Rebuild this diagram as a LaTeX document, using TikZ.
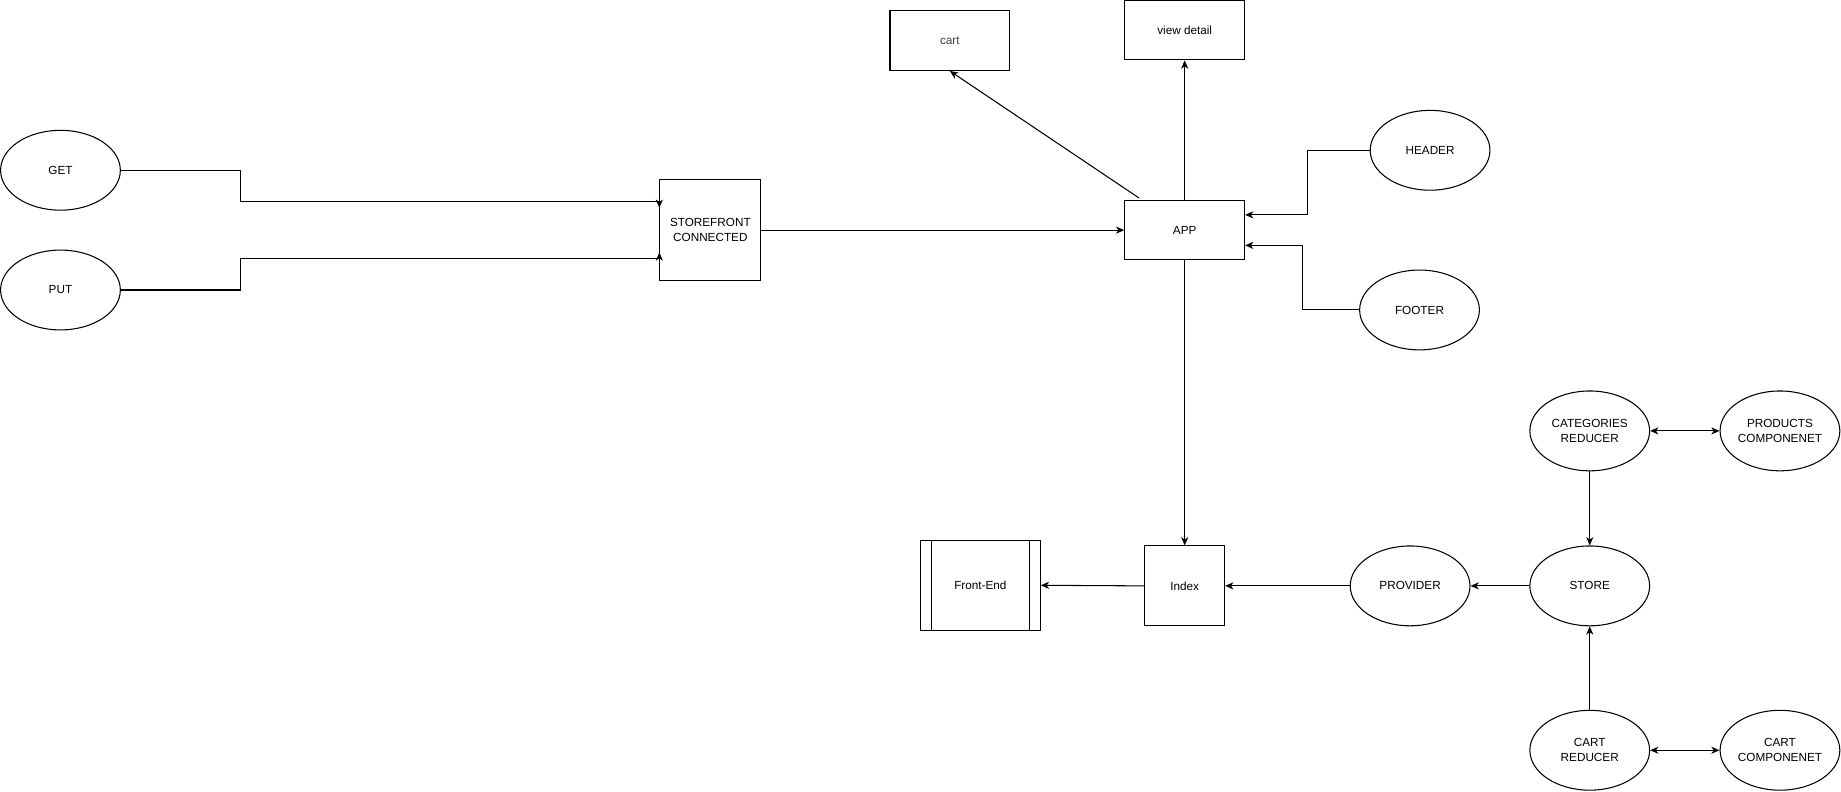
\documentclass[tikz,border=0pt]{standalone}
\usepackage{fontspec}
\setmainfont{Liberation Sans}
\usetikzlibrary{shapes.geometric,arrows.meta}
\tikzset{
  box/.style={draw, rectangle, inner sep=0pt, align=center, font=\fontsize{10pt}{13pt}\selectfont},
  oval/.style={draw, ellipse, minimum width=102pt, minimum height=68pt, inner sep=0pt,
    label={[align=center, font=\fontsize{10pt}{13pt}\selectfont]center:#1}},
  arr/.style={-{Stealth[length=7pt,width=6pt,inset=2pt]}},
  darr/.style={{Stealth[length=7pt,width=6pt,inset=2pt]}-{Stealth[length=7pt,width=6pt,inset=2pt]}}
}
\begin{document}
\begin{tikzpicture}[x=1pt, y=-1pt, line width=0.9pt]
		\useasboundingbox (0,0) rectangle (1568,674);
		\node [oval=GET] (get) at (51.5,145) {};
		\node [oval=PUT] (put) at (51.5,247) {};
		\node [box, minimum width=86pt, minimum height=86pt] (store front) at (605,196) {STOREFRONT\\CONNECTED};
		\node [box, minimum width=102pt, minimum height=50pt] (app) at (1009,196) {APP};
		\node [box, minimum width=102pt, minimum height=51pt, text=black!75] (cart) at (809,34.5) {cart};
		\node [box, minimum width=102pt, minimum height=51pt] (view detail) at (1009,25.5) {view detail};
		\node [oval=HEADER] (header) at (1218,128) {};
		\node [oval=FOOTER] (footer) at (1209,264) {};
		\node [box, minimum width=68pt, minimum height=68pt] (index) at (1009,499) {Index};
		\node [box, minimum width=102pt, minimum height=77pt] (front end) at (835,498.5) {Front-End};
		\draw ([xshift=10pt]front end.north west) -- ([xshift=10pt]front end.south west);
		\draw ([xshift=-10pt]front end.north east) -- ([xshift=-10pt]front end.south east);
		\node [oval=PROVIDER] (provider) at (1201,499) {};
		\node [oval=STORE] (store) at (1354,499) {};
		\node [oval={CATEGORIES\\REDUCER}] (categories) at (1354,367) {};
		\node [oval={PRODUCTS\\COMPONENET}] (products) at (1516,367) {};
		\node [oval={CART\\REDUCER}] (cart reducer) at (1354,639) {};
		\node [oval={CART\\COMPONENET}] (cart comp) at (1516,639) {};
		\coordinate (get in) at ([yshift=24pt]store front.west);
		\coordinate (put in) at ([yshift=-24pt]store front.west);
		\draw [arr] (get.east) -- ++(102,0) |- (get in) -- ++(0,5);
		\draw [arr] (put.east) -- ++(102,0) |- (put in) -- ++(0,-5);
		\draw [arr] (store front.east) -- (app.west);
		\draw [arr] (app.north) -- (view detail.south);
		\draw [arr] ([xshift=-39pt, yshift=2pt]app.north) -- (cart.south);
		\draw [arr] (header.west) -- ++(-53,0) |- ([yshift=13pt]app.east);
		\draw [arr] (footer.west) -- ++(-48,0) |- ([yshift=-13pt]app.east);
		\draw [arr] (app.south) -- (index.north);
		\draw [arr] (index.west) -- (front end.east);
		\draw [arr] (provider.west) -- (index.east);
		\draw [arr] (store.west) -- (provider.east);
		\draw [arr] (categories.south) -- (store.north);
		\draw [arr] (cart reducer.north) -- (store.south);
		\draw [darr] (categories.east) -- (products.west);
		\draw [darr] (cart reducer.east) -- (cart comp.west);
\end{tikzpicture}
\end{document}
